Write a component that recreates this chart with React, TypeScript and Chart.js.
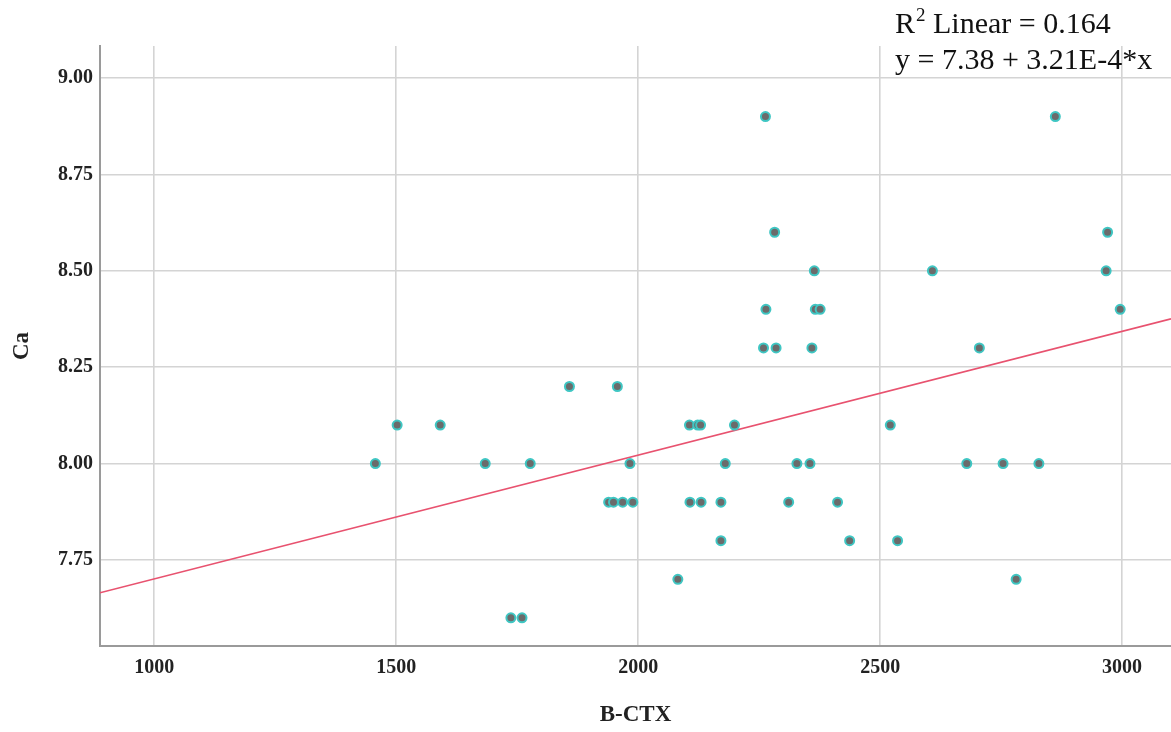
import React, { useEffect, useRef } from "react";
import { Chart, registerables } from "chart.js";

Chart.register(...registerables);

// B-CTX values (x) and Ca values (y)
const bctx = [
  1457, 1502, 1591, 1684, 1777, 1737, 1760, 1858, 1957, 1939,
  1949, 1968, 1989, 1983, 2082, 2106, 2123, 2129, 2199, 2180,
  2107, 2130, 2171, 2171, 2311, 2263, 2282, 2364, 2264, 2366,
  2376, 2259, 2285, 2359, 2328, 2355, 2412, 2437, 2521, 2536,
  2608, 2679, 2705, 2754, 2781, 2828, 2862, 2970, 2967, 2996,
];
const ca = [
  8.0, 8.1, 8.1, 8.0, 8.0, 7.6, 7.6, 8.2, 8.2, 7.9,
  7.9, 7.9, 7.9, 8.0, 7.7, 8.1, 8.1, 8.1, 8.1, 8.0,
  7.9, 7.9, 7.9, 7.8, 7.9, 8.9, 8.6, 8.5, 8.4, 8.4,
  8.4, 8.3, 8.3, 8.3, 8.0, 8.0, 7.9, 7.8, 8.1, 7.8,
  8.5, 8.0, 8.3, 8.0, 7.7, 8.0, 8.9, 8.6, 8.5, 8.4,
];

const xTicks = [1000, 1500, 2000, 2500, 3000];
const yTicks = [7.75, 8.0, 8.25, 8.5, 8.75, 9.0];
const xRange = [888, 3101];
const yRange = [7.527, 9.083];

const intercept = 7.38;
const slope = 3.21e-4;
const r2Text = "0.164";
const eqText = "y = 7.38 + 3.21E-4*x";

const annotationPlugin = {
  id: "fitAnnotation",
  afterDraw(chart: any) {
    const ctx = chart.ctx;
    ctx.save();
    ctx.fillStyle = "#111";
    ctx.textBaseline = "alphabetic";
    ctx.textAlign = "left";
    const big = "30px 'Liberation Serif', 'Times New Roman', serif";
    const small = "19px 'Liberation Serif', 'Times New Roman', serif";
    let x = 895;
    const y1 = 33;
    ctx.font = big;
    ctx.fillText("R", x, y1);
    x += ctx.measureText("R").width + 1;
    ctx.font = small;
    ctx.fillText("2", x, y1 - 12);
    x += ctx.measureText("2").width;
    ctx.font = big;
    ctx.fillText(" Linear = " + r2Text, x, y1);
    ctx.fillText(eqText, 895, 69);
    ctx.restore();
  },
};

export default function App() {
  const ref = useRef<HTMLCanvasElement>(null);
  useEffect(() => {
    if (!ref.current) return;
    const points = bctx.map((v, i) => ({ x: v, y: ca[i] }));
    const fit = xRange.map((v) => ({ x: v, y: intercept + slope * v }));
    const tickFont = { family: "'Liberation Serif', 'Times New Roman', serif", size: 20, weight: "bold" as const };
    const titleFont = { family: "'Liberation Serif', 'Times New Roman', serif", size: 23, weight: "bold" as const };
    const chart = new Chart(ref.current, {
      type: "scatter",
      data: {
        datasets: [
          {
            label: "points",
            data: points,
            backgroundColor: "#6b6b6b",
            borderColor: "#3fc6c3",
            borderWidth: 2,
            pointRadius: 4.5,
          },
          {
            label: "fit",
            type: "line",
            data: fit,
            borderColor: "#e8526f",
            borderWidth: 1.6,
            pointRadius: 0,
            showLine: true,
            fill: false,
          } as any,
        ],
      },
      options: {
        responsive: false,
        animation: false,
        layout: { autoPadding: false, padding: { top: 46, left: 0, right: 0, bottom: 0 } },
        plugins: { legend: { display: false }, tooltip: { enabled: false } },
        scales: {
          x: {
            type: "linear",
            min: xRange[0],
            max: xRange[1],
            afterBuildTicks: (s: any) => {
              s.ticks = xTicks.map((v) => ({ value: v }));
            },
            afterFit: (s: any) => {
              s.height = 86;
            },
            grid: { color: "#d4d4d4", lineWidth: 1.6, drawTicks: false },
            border: { display: true, color: "#9a9a9a", width: 2 },
            ticks: {
              color: "#222",
              font: tickFont,
              padding: 10,
              maxRotation: 0,
              autoSkip: false,
              callback: (v: any) => String(v),
            },
            title: {
              display: true,
              text: "B-CTX",
              color: "#222",
              font: titleFont,
              padding: { top: 0, bottom: 3 },
            },
          },
          y: {
            type: "linear",
            min: yRange[0],
            max: yRange[1],
            afterBuildTicks: (s: any) => {
              s.ticks = yTicks.map((v) => ({ value: v }));
            },
            afterFit: (s: any) => {
              s.width = 100;
            },
            grid: { color: "#d4d4d4", lineWidth: 1.6, drawTicks: false },
            border: { display: true, color: "#9a9a9a", width: 2 },
            ticks: {
              color: "#222",
              font: tickFont,
              padding: 7,
              autoSkip: false,
              callback: (v: any) => Number(v).toFixed(2),
            },
            title: {
              display: true,
              text: "Ca",
              color: "#222",
              font: titleFont,
              padding: { top: 8, bottom: 0 },
            },
          },
        },
      },
      plugins: [annotationPlugin],
    });
    return () => chart.destroy();
  }, []);
  return (
    <canvas
      ref={ref}
      width={1171}
      height={732}
      style={{ position: "absolute", left: 0, top: 0, width: 1171, height: 732, background: "#fff" }}
    />
  );
}
